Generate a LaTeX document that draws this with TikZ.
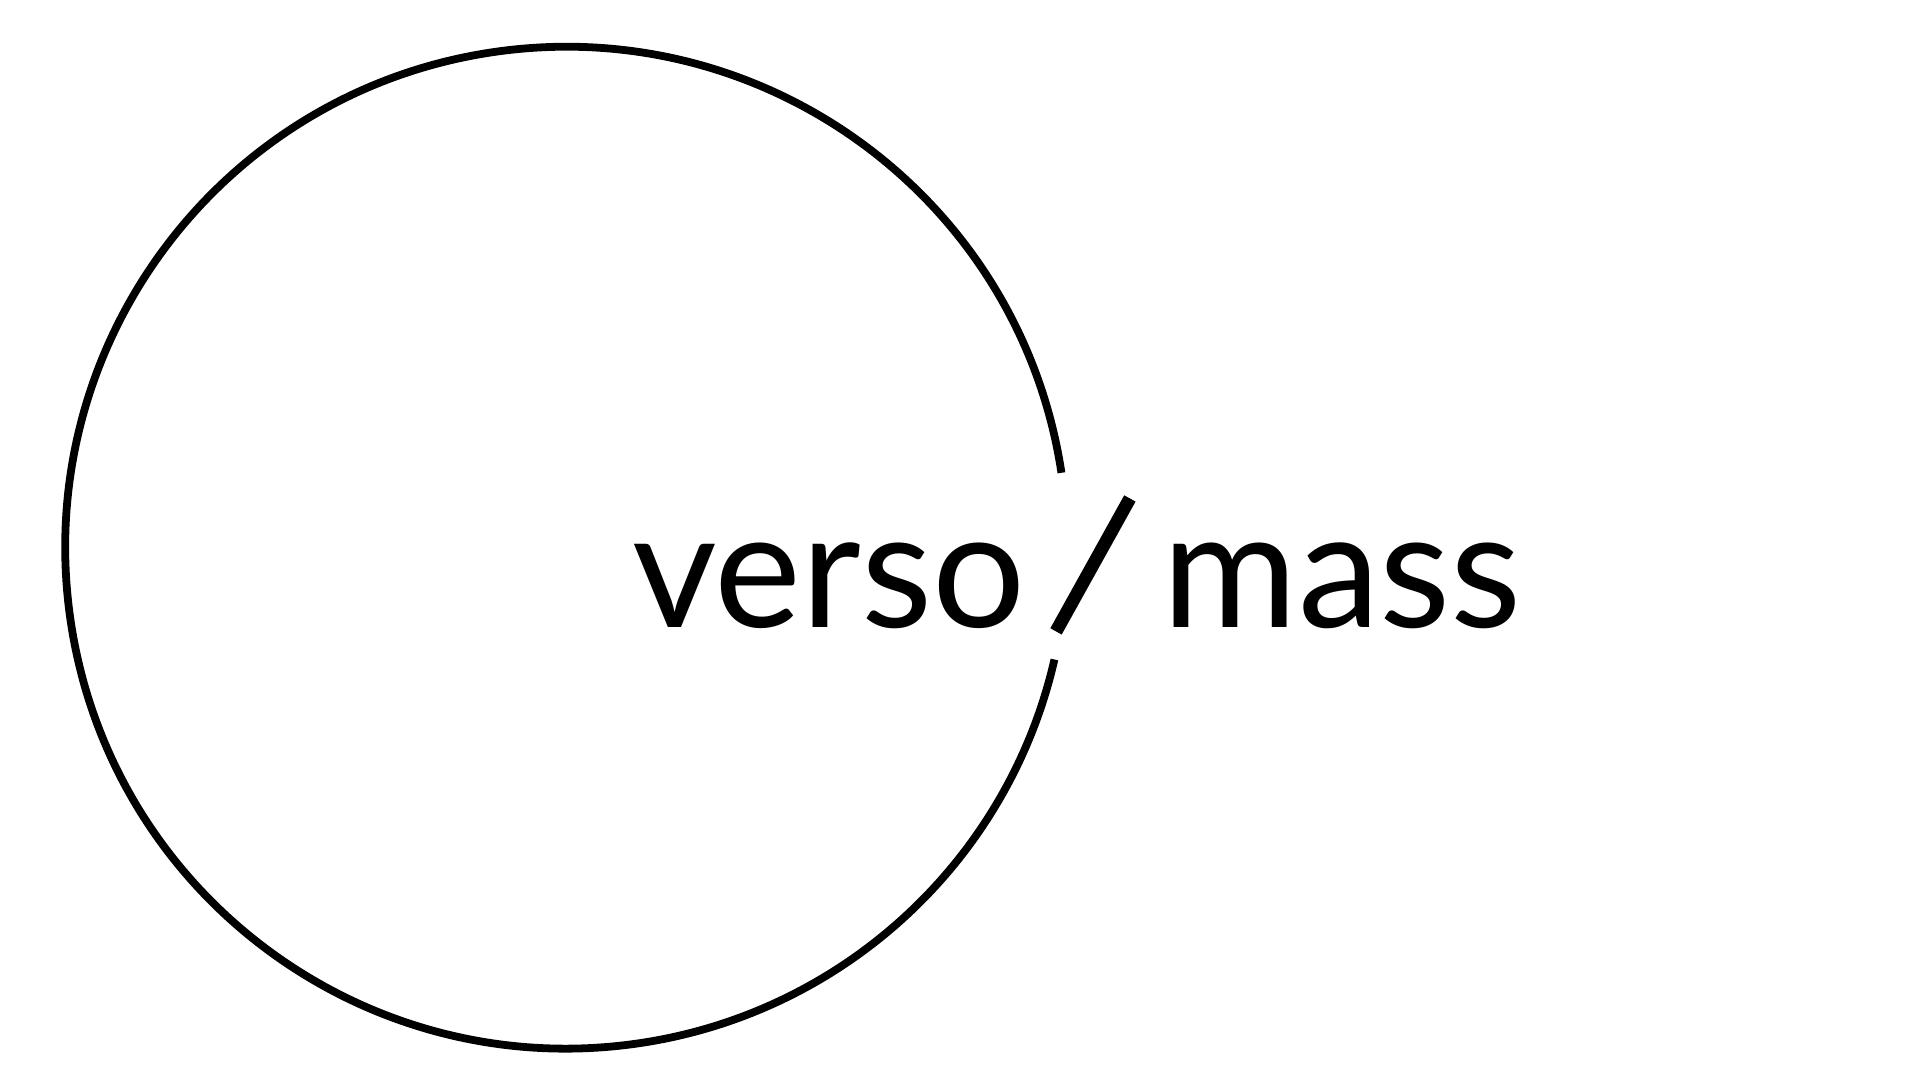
\documentclass[tikz,border=0pt]{standalone}
\usepackage{fontspec}
\setmainfont{Lato}
\begin{document}
\begin{tikzpicture}
[every node/.style={inner sep=0pt,font=\fontsize{38}{42}\selectfont},
 ring/.style={line width=1.8pt}]
\useasboundingbox (0,0) rectangle (15.6,8.78);
\coordinate (c) at (4.60,4.33);
\draw[ring] (c) ++(8.6:4.07) arc[start angle=8.6,end angle=347.1,radius=4.07];
\node[anchor=base west] (verso) at (5.13,3.68) {verso};
\coordinate (s1) at (8.58,3.65);
\coordinate (s2) at (9.18,4.73);
\draw[line width=3pt] (s1) -- (s2);
\node[anchor=base west] (mass) at (9.44,3.68) {mass};
\end{tikzpicture}
\end{document}
